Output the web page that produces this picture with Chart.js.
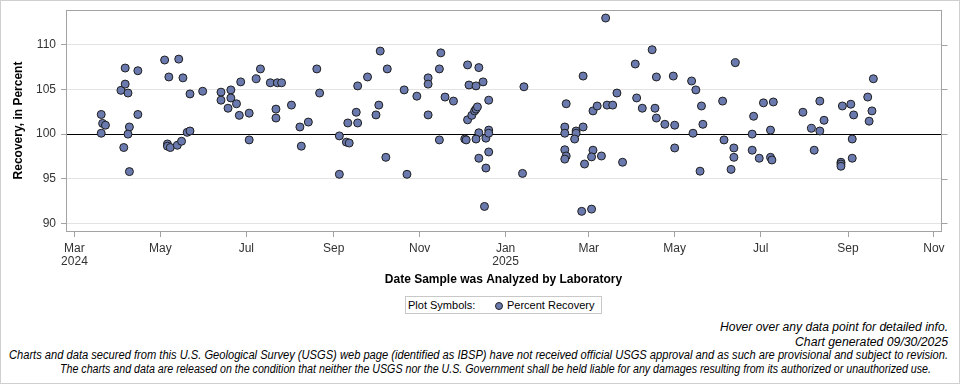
<!DOCTYPE html>
<html>
<head>
<meta charset="utf-8">
<title>Percent Recovery</title>
<script src="https://cdn.jsdelivr.net/npm/chart.js@4.4.1/dist/chart.umd.min.js"></script>
<style>
  html, body { margin: 0; padding: 0; background: #fff; }
  #wrap { position: relative; width: 960px; height: 384px; box-sizing: border-box; border: 1px solid #cfcfcf; overflow: hidden; }
  #chart { position: absolute; left: 0; top: 0; }
  .legend { position: absolute; left: 404px; top: 295px; width: 197px; height: 18px; box-sizing: border-box; border: 1px solid #c8c8c8;
            font: 11px 'Liberation Sans', Arial, sans-serif; color: #000; }
  .legend span { position: absolute; top: 2px; white-space: nowrap; }
  .legend .dot { position: absolute; left: 89px; top: 5px; width: 6px; height: 6px; border-radius: 50%; background: #6b7aae; border: 1px solid #222; }
  .note { position: absolute; white-space: nowrap; font: italic 12px 'Liberation Sans', Arial, sans-serif; color: #000; transform-origin: 0 50%; }
</style>
</head>
<body>
<div id="wrap">
  <canvas id="chart" width="960" height="290"></canvas>
  <div class="legend">
    <span style="left:2px">Plot Symbols:</span>
    <div class="dot"></div>
    <span style="left:101px">Percent Recovery</span>
  </div>
  <div class="note" data-w="228" style="left:719px; top:319px">Hover over any data point for detailed info.</div>
  <div class="note" data-w="153" style="left:794px; top:334px">Chart generated 09/30/2025</div>
  <div class="note" data-w="939" style="left:8px; top:347px">Charts and data secured from this U.S. Geological Survey (USGS) web page (identified as IBSP) have not received official USGS approval and as such are provisional and subject to revision.</div>
  <div class="note" data-w="871" style="left:59px; top:361px">The charts and data are released on the condition that neither the USGS nor the U.S. Government shall be held liable for any damages resulting from its authorized or unauthorized use.</div>
</div>
<script>
// Date the sample was analyzed, and its percent recovery
const sampleDates = [
  '2024-03-20', '2024-03-21', '2024-03-23', '2024-03-20', '2024-04-03', '2024-04-06', '2024-04-06', '2024-04-08',
  '2024-04-09', '2024-04-08', '2024-04-05', '2024-04-09', '2024-04-15', '2024-04-15', '2024-05-04', '2024-05-14',
  '2024-05-07', '2024-05-17', '2024-05-22', '2024-05-31', '2024-05-06', '2024-05-06', '2024-05-08', '2024-05-13',
  '2024-05-16', '2024-05-20', '2024-05-22', '2024-06-13', '2024-06-13', '2024-06-20', '2024-06-20', '2024-06-18',
  '2024-06-24', '2024-06-27', '2024-06-26', '2024-07-03', '2024-07-03', '2024-07-08', '2024-07-11', '2024-07-18',
  '2024-07-23', '2024-07-26', '2024-07-22', '2024-07-22', '2024-08-02', '2024-08-08', '2024-08-09', '2024-08-14',
  '2024-08-20', '2024-08-22', '2024-09-05', '2024-09-05', '2024-09-10', '2024-09-12', '2024-09-11', '2024-09-17',
  '2024-09-18', '2024-09-18', '2024-09-25', '2024-10-01', '2024-10-03', '2024-10-04', '2024-10-08', '2024-10-09',
  '2024-10-21', '2024-10-23', '2024-10-30', '2024-11-07', '2024-11-07', '2024-11-07', '2024-11-15', '2024-11-16',
  '2024-11-15', '2024-11-19', '2024-11-25', '2024-12-03', '2024-12-04', '2024-12-05', '2024-12-06', '2024-12-05',
  '2024-12-08', '2024-12-10', '2024-12-11', '2024-12-12', '2024-12-11', '2024-12-13', '2024-12-13', '2024-12-11',
  '2024-12-13', '2024-12-16', '2024-12-17', '2024-12-18', '2024-12-18', '2024-12-20', '2024-12-20', '2024-12-20',
  '2024-12-20', '2025-01-14', '2025-01-13', '2025-02-13', '2025-02-12', '2025-02-12', '2025-02-12', '2025-02-13',
  '2025-02-12', '2025-02-20', '2025-02-20', '2025-02-19', '2025-02-25', '2025-02-25', '2025-02-26', '2025-02-24',
  '2025-03-03', '2025-03-04', '2025-03-07', '2025-03-04', '2025-03-03', '2025-03-10', '2025-03-13', '2025-03-14',
  '2025-03-18', '2025-03-21', '2025-03-25', '2025-04-03', '2025-04-04', '2025-04-08', '2025-04-15', '2025-04-18',
  '2025-04-17', '2025-04-18', '2025-04-24', '2025-04-30', '2025-05-01', '2025-05-01', '2025-05-13', '2025-05-16',
  '2025-05-20', '2025-05-21', '2025-05-14', '2025-05-19', '2025-06-04', '2025-06-05', '2025-06-12', '2025-06-12',
  '2025-06-10', '2025-06-13', '2025-06-26', '2025-06-25', '2025-06-25', '2025-06-30', '2025-07-03', '2025-07-10',
  '2025-07-08', '2025-07-08', '2025-07-09', '2025-07-31', '2025-08-06', '2025-08-08', '2025-08-12', '2025-08-12',
  '2025-08-15', '2025-08-27', '2025-08-27', '2025-08-27', '2025-08-28', '2025-09-03', '2025-09-05', '2025-09-04',
  '2025-09-04', '2025-09-15', '2025-09-16', '2025-09-18', '2025-09-19'
];
const percentRecovery = [
  102.2, 101.2, 101.0, 100.1, 104.9, 107.4, 105.6, 104.6,
  100.8, 100.0, 98.5, 95.8, 107.1, 102.2, 108.3, 108.4,
  106.4, 106.3, 104.5, 104.8, 98.9, 98.65, 98.5, 98.75,
  99.2, 100.2, 100.35, 104.7, 103.8, 104.95, 104.05, 102.9,
  103.4, 105.85, 102.1, 102.35, 99.35, 106.2, 107.3, 105.75,
  105.75, 105.75, 102.8, 101.8, 103.25, 100.8, 98.65, 101.35,
  107.3, 104.6, 99.8, 95.5, 99.1, 99.0, 101.25, 102.45,
  101.25, 105.4, 106.4, 102.15, 103.25, 109.3, 97.4, 107.3,
  104.95, 95.5, 104.25, 106.3, 105.6, 102.15, 107.3, 109.1,
  99.35, 104.15, 103.7, 99.45, 99.35, 107.75, 105.5, 101.6,
  102.1, 102.6, 102.8, 103.05, 105.4, 107.45, 100.15, 99.45,
  97.3, 105.85, 91.9, 99.55, 96.2, 103.8, 100.45, 100.1,
  98.0, 105.3, 95.6, 103.4, 100.8, 100.1, 98.25, 97.55,
  97.2, 100.35, 100.1, 99.45, 106.5, 100.8, 96.65, 91.35,
  91.6, 102.6, 103.15, 98.2, 97.45, 97.55, 113.0, 103.25,
  103.25, 104.6, 96.85, 107.85, 104.05, 102.9, 109.45, 106.4,
  102.9, 101.8, 101.1, 106.5, 101.0, 98.45, 105.95, 104.95,
  103.15, 101.1, 100.1, 95.85, 103.7, 99.35, 98.45, 97.4,
  96.05, 108.0, 102.0, 100.0, 98.2, 97.3, 103.5, 103.6,
  100.45, 97.4, 97.1, 102.45, 100.65, 98.2, 103.7, 100.35,
  101.55, 96.85, 96.65, 96.4, 103.15, 103.35, 102.15, 99.45,
  97.3, 104.15, 101.45, 102.6, 106.2
];

// x axis: month ticks and their labels
const tickDates = ['2024-03-01', '2024-05-01', '2024-07-01', '2024-09-01', '2024-11-01', '2025-01-01',
                   '2025-03-01', '2025-05-01', '2025-07-01', '2025-09-01', '2025-11-01'];
const tickLabels = [['Mar', '2024'], 'May', 'Jul', 'Sep', 'Nov', ['Jan', '2025'], 'Mar', 'May', 'Jul', 'Sep', 'Nov'];
const xRange = ['2024-02-24', '2025-11-06'];

// y axis
const yTicks = [90, 95, 100, 105, 110];
const yRange = [89.15, 113.9];

const FONT = "'Liberation Sans', Arial, sans-serif";
const FRAME = '#a3a3a3';

// days since the first tick, so a linear scale can stand in for time
const base = Date.parse(tickDates[0] + 'T00:00:00Z');
function dayNum(s) {
  return (Date.parse(s + 'T00:00:00Z') - base) / 864e5;
}

// plot frame plus the small tick marks on the right side
const framePlugin = {
  id: 'frame',
  afterDraw(chart) {
    const { ctx, chartArea: a, scales } = chart;
    const l = Math.round(a.left) + 0.5, r = Math.round(a.right) + 0.5;
    const t = Math.round(a.top) + 0.5, b = Math.round(a.bottom) + 0.5;
    ctx.save();
    ctx.strokeStyle = FRAME;
    ctx.lineWidth = 1;
    ctx.strokeRect(l, t, r - l, b - t);
    ctx.beginPath();
    scales.y.ticks.forEach(tk => {
      const py = Math.round(scales.y.getPixelForValue(tk.value)) + 0.5;
      ctx.moveTo(r, py);
      ctx.lineTo(r + 6, py);
    });
    ctx.stroke();
    ctx.restore();
  }
};

const points = sampleDates.map((d, i) => ({ x: dayNum(d), y: percentRecovery[i] }));

new Chart(document.getElementById('chart'), {
  type: 'scatter',
  data: {
    datasets: [{
      label: 'Percent Recovery',
      data: points,
      pointRadius: 4,
      pointHoverRadius: 5,
      pointBackgroundColor: '#6b7aae',
      pointBorderColor: '#1e1e1e',
      pointBorderWidth: 1
    }]
  },
  options: {
    responsive: false,
    animation: false,
    layout: { padding: { top: 9, right: 20, left: 0, bottom: 0 } },
    plugins: {
      legend: { display: false },
      tooltip: {
        callbacks: {
          label: c => sampleDates[c.dataIndex] + ': ' + c.parsed.y + '%'
        }
      }
    },
    scales: {
      x: {
        type: 'linear',
        min: dayNum(xRange[0]),
        max: dayNum(xRange[1]),
        afterBuildTicks: s => { s.ticks = tickDates.map(d => ({ value: dayNum(d) })); },
        afterFit: s => { s.height = 60; },
        ticks: {
          autoSkip: false,
          maxRotation: 0,
          padding: 5,
          color: '#333',
          font: { family: FONT, size: 12, lineHeight: 1.1 },
          callback: (v, i) => tickLabels[i]
        },
        grid: { drawOnChartArea: false, tickLength: 6, tickColor: FRAME },
        border: { color: FRAME },
        title: {
          display: true,
          text: 'Date Sample was Analyzed by Laboratory',
          color: '#000',
          font: { family: FONT, size: 12, weight: 'bold' },
          padding: { top: 4, bottom: 4 }
        }
      },
      y: {
        min: yRange[0],
        max: yRange[1],
        afterBuildTicks: s => { s.ticks = yTicks.map(v => ({ value: v })); },
        // fixed width, and no extra room for half a label at the ends
        afterFit: s => { s.width = 65; s.paddingTop = 0; s.paddingBottom = 0; },
        ticks: {
          padding: 5,
          color: '#333',
          font: { family: FONT, size: 12 }
        },
        grid: {
          color: c => (c.tick && c.tick.value === 100 ? '#000' : '#e3e3e3'),
          tickColor: FRAME,
          tickLength: 5
        },
        border: { color: FRAME },
        title: {
          display: true,
          text: 'Recovery, in Percent',
          color: '#000',
          font: { family: FONT, size: 12, weight: 'bold' },
          padding: { top: 10, bottom: 0 }
        }
      }
    }
  },
  plugins: [framePlugin]
});

// the footer uses a narrow italic face; squeeze each line to its width
document.querySelectorAll('.note').forEach(el => {
  const natural = el.getBoundingClientRect().width;
  el.style.transform = 'scaleX(' + (+el.dataset.w / natural) + ')';
});
</script>
</body>
</html>
